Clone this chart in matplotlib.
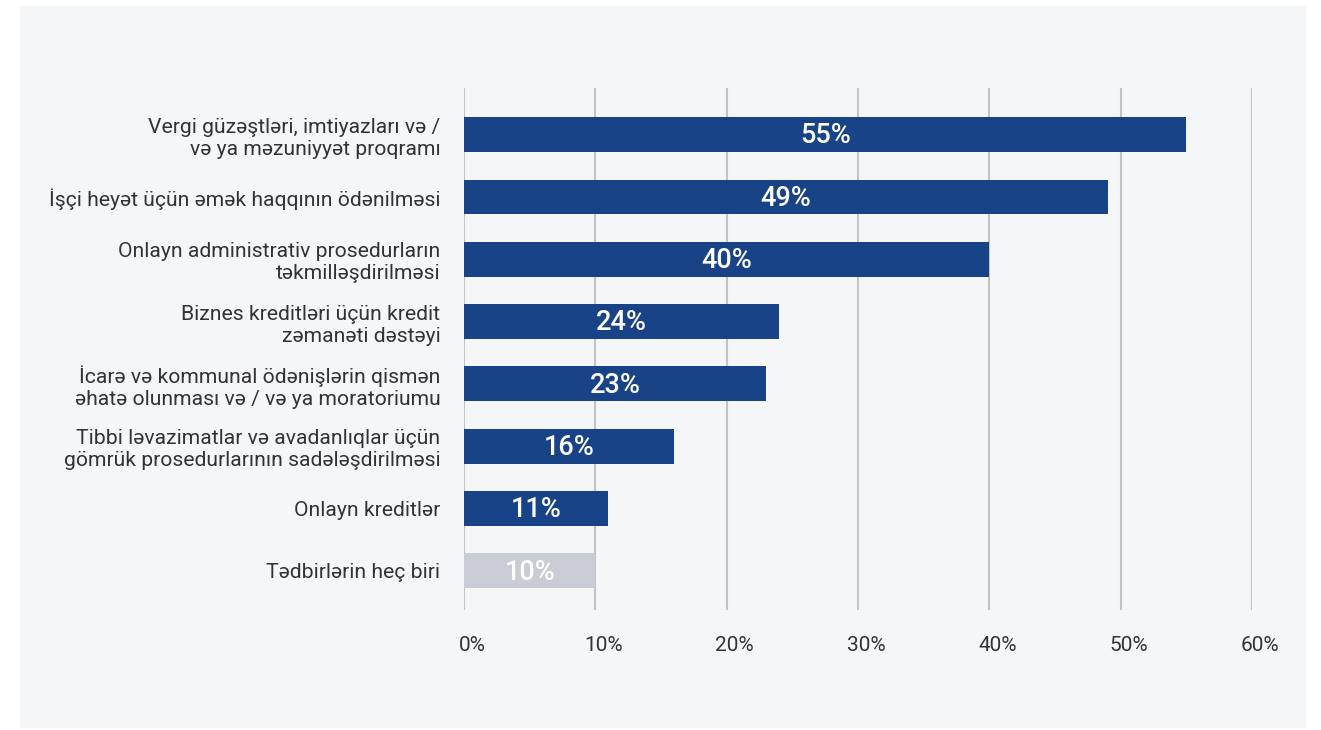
import matplotlib
matplotlib.use("Agg")
import matplotlib.pyplot as plt
from matplotlib.patches import Rectangle
from matplotlib.ticker import FuncFormatter
from matplotlib.transforms import ScaledTranslation

categories = [
    "Vergi güzəştləri, imtiyazları və /\nvə ya məzuniyyət proqramı",
    "İşçi heyət üçün əmək haqqının ödənilməsi",
    "Onlayn administrativ prosedurların\ntəkmilləşdirilməsi",
    "Biznes kreditləri üçün kredit\nzəmanəti dəstəyi",
    "İcarə və kommunal ödənişlərin qismən\nəhatə olunması və / və ya moratoriumu",
    "Tibbi ləvazimatlar və avadanlıqlar üçün\ngömrük prosedurlarının sadələşdirilməsi",
    "Onlayn kreditlər",
    "Tədbirlərin heç biri",
]
values = [55, 49, 40, 24, 23, 16, 11, 10]
bar_colors = ["#194387"] * 7 + ["#c8ccd4"]
xticks = [0, 10, 20, 30, 40, 50, 60]

plt.rcParams['font.family'] = ['Roboto', 'DejaVu Sans']

W, H = 1321, 730
fig = plt.figure(figsize=(W / 100, H / 100), dpi=100)
fig.patch.set_facecolor("white")
fig.add_artist(Rectangle((20 / W, 1 - 728 / H), (1306 - 20) / W, (728 - 6) / H,
                         transform=fig.transFigure, facecolor="#f5f6f8",
                         edgecolor="none", zorder=0))

ax = fig.add_axes([464 / W, 1 - 610 / H, (1252 - 464) / W, (610 - 88) / H])
ax.set_facecolor("none")

y = list(range(len(categories)))
ax.barh(y, values, height=0.56, color=bar_colors, zorder=3)
for yi, v in zip(y, values):
    ax.text(v / 2, yi + 0.02, f"{v}%", ha="center", va="center", color="white",
            fontsize=19.5, fontweight="medium", zorder=4)

ax.set_xlim(0, 60)
ax.set_ylim(7.63, -0.75)
ax.set_xticks(xticks)
ax.xaxis.set_major_formatter(FuncFormatter(lambda v, p: f"{int(v)}%"))
ax.set_yticks(y)
ax.set_yticklabels(categories, fontsize=15.2, color="#333333", linespacing=1.2)
ax.tick_params(axis="y", length=0, pad=17)
ax.tick_params(axis="x", length=0, pad=19, labelsize=15, labelcolor="#333333")
offset = ScaledTranslation(0.08, 0, fig.dpi_scale_trans)
for lab in ax.get_xticklabels():
    lab.set_transform(lab.get_transform() + offset)
ax.grid(axis="x", color="#c4c4c4", linewidth=1.5, zorder=1)
ax.grid(axis="y", visible=False)
for s in ax.spines.values():
    s.set_visible(False)

fig.savefig("out.png", dpi=100)
